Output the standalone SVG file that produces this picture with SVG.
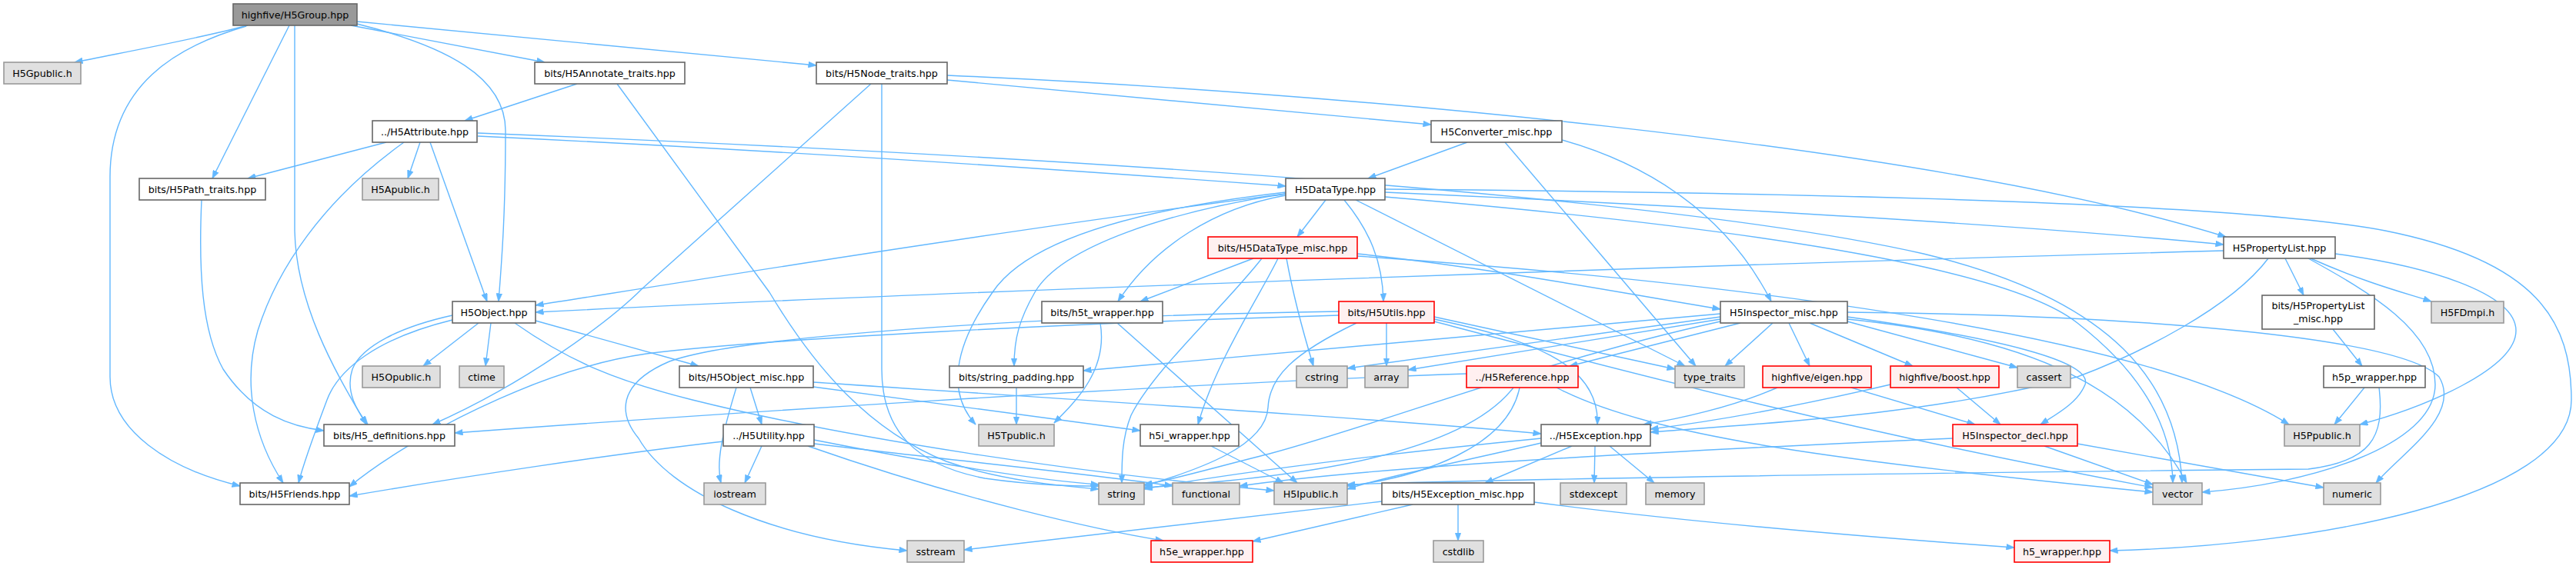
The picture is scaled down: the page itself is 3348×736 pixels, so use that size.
<svg xmlns="http://www.w3.org/2000/svg" width="3348" height="736" viewBox="0 0 3348 736">
<defs>
<style>
.e path{fill:none;stroke:#63b8ff;stroke-width:1.4;marker-end:url(#a)}
.n rect{stroke-width:1.6}
.w rect{fill:#ffffff;stroke:#666666}
.g rect{fill:#e0e0e0;stroke:#999999}
.r rect{fill:#fff0f0;stroke:#ff0000}
.root rect{fill:#999999;stroke:#666666}
.n text{font-family:"DejaVu Sans",sans-serif;font-size:12.7px;text-anchor:middle;fill:#000000}
</style>
<marker id="a" viewBox="0 0 11 8" refX="10.5" refY="4" markerWidth="11" markerHeight="8" markerUnits="userSpaceOnUse" orient="auto"><path d="M0,0 L11,4 L0,8 z" fill="#63b8ff" stroke="#63b8ff" stroke-width="0.5"/></marker>
</defs>
<rect width="3348" height="736" fill="#ffffff"/>
<g id="edges" class="e">
<path d="M322,33 C250,52 160,68 97,81"/>
<path d="M320,34 C230,60 143,110 143,230 L143,490 C143,560 220,610 312,632"/>
<path d="M376,33 L276,232"/>
<path d="M383,33 L383,300 C385,400 440,490 476,552"/>
<path d="M464,31 C580,60 657,100 657,170 C657,280 652,340 648,392"/>
<path d="M456,33 L708,81"/>
<path d="M464,28 L1061,85"/>
<path d="M750,109 L604,157"/>
<path d="M802,109 L1000,380 C1060,480 1130,560 1230,600 C1300,625 1380,632 1428,636"/>
<path d="M1231,98 C1700,118 2500,185 2893,308"/>
<path d="M1231,104 L1860,162"/>
<path d="M1146,109 L1146,480 C1146,560 1190,605 1280,622 C1350,632 1400,632 1428,632"/>
<path d="M1132,109 L835,375 C790,420 680,500 562,552"/>
<path d="M502,185 L322,232"/>
<path d="M546,185 L530,232"/>
<path d="M559,185 L633,392"/>
<path d="M525,185 C420,260 360,350 335,430 C315,500 330,570 368,628"/>
<path d="M621,177 C1000,195 1400,222 1671,242"/>
<path d="M621,173 C1300,200 2150,250 2500,330 C2750,390 2830,500 2836,628"/>
<path d="M262,260 C258,350 262,430 290,480 C330,540 380,555 421,560"/>
<path d="M1907,185 L1778,232"/>
<path d="M1956,185 L2204,476"/>
<path d="M2030,182 C2130,210 2240,270 2302,392"/>
<path d="M1723,260 L1686,308"/>
<path d="M1747,260 C1780,300 1797,340 1798,392"/>
<path d="M1762,260 L2190,476"/>
<path d="M1800,246 C2300,250 2900,262 3100,300 C3300,340 3342,420 3342,520 C3342,650 3000,710 2742,716"/>
<path d="M1800,250 C2200,268 2600,290 2890,318"/>
<path d="M1800,256 C2200,290 2600,340 2700,420 C2790,490 2823,560 2824,628"/>
<path d="M1671,252 C1300,300 900,365 696,397"/>
<path d="M2890,326 C2200,345 1200,380 696,406"/>
<path d="M1671,254 C1580,270 1500,320 1453,392"/>
<path d="M1671,252 C1520,275 1380,320 1345,380 C1325,415 1318,440 1318,476"/>
<path d="M1671,250 C1450,275 1330,320 1290,380 C1240,450 1230,510 1268,552"/>
<path d="M1629,336 L1482,392"/>
<path d="M1661,336 C1640,380 1580,470 1557,552"/>
<path d="M1672,336 C1680,380 1690,420 1707,476"/>
<path d="M1640,336 C1590,400 1500,480 1470,540 C1458,570 1458,600 1458,628"/>
<path d="M1764,330 C1950,350 2100,380 2236,402"/>
<path d="M1764,333 C2300,370 2800,440 2975,552"/>
<path d="M2236,408 C1900,440 1650,460 1408,482"/>
<path d="M2236,412 L1751,479"/>
<path d="M2236,415 L1830,481"/>
<path d="M2236,418 C2000,470 1800,550 1650,590 C1570,610 1520,625 1487,630"/>
<path d="M2262,420 L2040,476"/>
<path d="M2304,420 L2242,476"/>
<path d="M2325,420 L2352,476"/>
<path d="M2352,420 L2486,476"/>
<path d="M2401,418 L2622,478"/>
<path d="M2401,412 C2600,440 2720,470 2710,500 C2700,525 2670,540 2652,552"/>
<path d="M2401,406 C2800,410 3120,440 3170,490 C3200,540 3120,590 3088,628"/>
<path d="M2401,415 C2650,440 2780,510 2842,628"/>
<path d="M1740,410 C1400,420 1000,440 840,460 C700,480 530,570 454,633"/>
<path d="M1802,420 L1802,476"/>
<path d="M1864,412 L2177,480"/>
<path d="M1864,415 C1980,440 2080,470 2076,552"/>
<path d="M1864,418 C2100,480 2400,560 2798,634"/>
<path d="M1740,405 C1300,412 950,440 870,470 C800,500 805,540 830,570 C870,640 1000,700 1179,716"/>
<path d="M1763,420 C1680,460 1650,490 1648,530 C1645,580 1560,610 1487,632"/>
<path d="M1906,486 C1500,500 900,540 591,563"/>
<path d="M1975,504 C1960,580 1850,620 1751,632"/>
<path d="M1967,504 C1900,590 1700,620 1487,634"/>
<path d="M2023,504 C2150,570 2400,600 2798,640"/>
<path d="M2043,580 L1930,628"/>
<path d="M2073,580 L2072,628"/>
<path d="M2092,580 L2150,628"/>
<path d="M2003,570 C1800,590 1600,615 1487,636"/>
<path d="M2003,576 C1900,600 1800,620 1751,636"/>
<path d="M1895,656 L1895,703"/>
<path d="M1796,652 L1253,715"/>
<path d="M1836,656 L1628,704"/>
<path d="M1994,653 C2200,680 2450,700 2618,712"/>
<path d="M622,420 L550,476"/>
<path d="M638,420 L631,476"/>
<path d="M696,417 L908,476"/>
<path d="M669,420 C740,470 800,495 900,520 C1100,570 1400,615 1656,638"/>
<path d="M588,410 C520,425 470,450 458,480 C448,510 465,535 478,552"/>
<path d="M588,416 C490,440 440,480 425,520 C410,560 395,600 388,628"/>
<path d="M957,504 C940,560 930,600 937,628"/>
<path d="M975,504 L990,552"/>
<path d="M1057,497 C1400,520 1800,545 2003,564"/>
<path d="M1057,503 L1482,560"/>
<path d="M940,574 C800,590 600,620 454,645"/>
<path d="M990,580 L968,628"/>
<path d="M1058,572 C1200,600 1350,625 1428,630"/>
<path d="M1058,577 C1250,600 1450,620 1524,632"/>
<path d="M1050,580 C1250,650 1430,690 1512,703"/>
<path d="M1321,504 L1321,552"/>
<path d="M1430,420 C1440,480 1400,520 1370,550"/>
<path d="M1452,420 L1686,628"/>
<path d="M1574,580 L1668,628"/>
<path d="M2970,336 L2994,384"/>
<path d="M3003,336 C3080,370 3130,382 3160,392"/>
<path d="M3035,330 C3150,345 3270,380 3270,430 C3270,480 3150,530 3067,552"/>
<path d="M3000,336 C3080,380 3165,430 3165,500 C3165,580 3000,630 2862,640"/>
<path d="M2948,336 C2900,400 2780,460 2700,490 C2500,540 2300,550 2145,562"/>
<path d="M3032,428 L3070,476"/>
<path d="M3073,504 L3034,552"/>
<path d="M3092,504 C3100,570 3080,600 3000,610 C2500,615 2000,622 1751,630"/>
<path d="M2310,504 C2250,530 2180,545 2136,552"/>
<path d="M2457,500 C2350,525 2250,545 2145,558"/>
<path d="M2406,504 L2567,552"/>
<path d="M2543,504 L2600,552"/>
<path d="M2657,580 L2798,630"/>
<path d="M2700,577 L3020,634"/>
<path d="M2538,570 C2200,585 1800,605 1611,632"/>
</g>
<g id="n_group" class="n root"><rect x="303" y="5" width="161" height="28"/><text x="383.5" y="23.5">highfive/H5Group.hpp</text></g>
<g id="n_gpub" class="n g"><rect x="5" y="81" width="100" height="28"/><text x="55" y="99.5">H5Gpublic.h</text></g>
<g id="n_annot" class="n w"><rect x="695" y="81" width="195" height="28"/><text x="792.5" y="99.5">bits/H5Annotate_traits.hpp</text></g>
<g id="n_node" class="n w"><rect x="1061" y="81" width="170" height="28"/><text x="1146" y="99.5">bits/H5Node_traits.hpp</text></g>
<g id="n_attr" class="n w"><rect x="484" y="157" width="136" height="28"/><text x="552" y="175.5">../H5Attribute.hpp</text></g>
<g id="n_conv" class="n w"><rect x="1860" y="157" width="170" height="28"/><text x="1945" y="175.5">H5Converter_misc.hpp</text></g>
<g id="n_path" class="n w"><rect x="181" y="232" width="164" height="28"/><text x="263" y="250.5">bits/H5Path_traits.hpp</text></g>
<g id="n_apub" class="n g"><rect x="471" y="232" width="99" height="28"/><text x="520.5" y="250.5">H5Apublic.h</text></g>
<g id="n_dtype" class="n w"><rect x="1671" y="232" width="129" height="28"/><text x="1735.5" y="250.5">H5DataType.hpp</text></g>
<g id="n_dtmisc" class="n r"><rect x="1570" y="308" width="194" height="28"/><text x="1667" y="326.5">bits/H5DataType_misc.hpp</text></g>
<g id="n_plist" class="n w"><rect x="2890" y="308" width="145" height="28"/><text x="2962.5" y="326.5">H5PropertyList.hpp</text></g>
<g id="n_obj" class="n w"><rect x="588" y="392" width="108" height="28"/><text x="642" y="410.5">H5Object.hpp</text></g>
<g id="n_h5t" class="n w"><rect x="1354" y="392" width="157" height="28"/><text x="1432.5" y="410.5">bits/h5t_wrapper.hpp</text></g>
<g id="n_utils" class="n r"><rect x="1740" y="392" width="124" height="28"/><text x="1802" y="410.5">bits/H5Utils.hpp</text></g>
<g id="n_insp" class="n w"><rect x="2236" y="392" width="165" height="28"/><text x="2318.5" y="410.5">H5Inspector_misc.hpp</text></g>
<g id="n_plmisc" class="n w"><rect x="2940" y="384" width="146" height="44"/><text x="3013" y="402">bits/H5PropertyList</text><text x="3013" y="419">_misc.hpp</text></g>
<g id="n_fdmpi" class="n g"><rect x="3160" y="392" width="94" height="28"/><text x="3207" y="410.5">H5FDmpi.h</text></g>
<g id="n_opub" class="n g"><rect x="471" y="476" width="101" height="28"/><text x="521.5" y="494.5">H5Opublic.h</text></g>
<g id="n_ctime" class="n g"><rect x="597" y="476" width="58" height="28"/><text x="626" y="494.5">ctime</text></g>
<g id="n_objmisc" class="n w"><rect x="883" y="476" width="174" height="28"/><text x="970" y="494.5">bits/H5Object_misc.hpp</text></g>
<g id="n_strpad" class="n w"><rect x="1234" y="476" width="174" height="28"/><text x="1321" y="494.5">bits/string_padding.hpp</text></g>
<g id="n_cstring" class="n g"><rect x="1685" y="476" width="66" height="28"/><text x="1718" y="494.5">cstring</text></g>
<g id="n_array" class="n g"><rect x="1774" y="476" width="56" height="28"/><text x="1802" y="494.5">array</text></g>
<g id="n_ref" class="n r"><rect x="1906" y="476" width="145" height="28"/><text x="1978.5" y="494.5">../H5Reference.hpp</text></g>
<g id="n_tt" class="n g"><rect x="2177" y="476" width="90" height="28"/><text x="2222" y="494.5">type_traits</text></g>
<g id="n_eigen" class="n r"><rect x="2291" y="476" width="141" height="28"/><text x="2361.5" y="494.5">highfive/eigen.hpp</text></g>
<g id="n_boost" class="n r"><rect x="2457" y="476" width="141" height="28"/><text x="2527.5" y="494.5">highfive/boost.hpp</text></g>
<g id="n_cassert" class="n g"><rect x="2622" y="476" width="69" height="28"/><text x="2656.5" y="494.5">cassert</text></g>
<g id="n_h5p" class="n w"><rect x="3020" y="476" width="132" height="28"/><text x="3086" y="494.5">h5p_wrapper.hpp</text></g>
<g id="n_defs" class="n w"><rect x="421" y="552" width="170" height="28"/><text x="506" y="570.5">bits/H5_definitions.hpp</text></g>
<g id="n_util" class="n w"><rect x="940" y="552" width="118" height="28"/><text x="999" y="570.5">../H5Utility.hpp</text></g>
<g id="n_tpub" class="n g"><rect x="1272" y="552" width="98" height="28"/><text x="1321" y="570.5">H5Tpublic.h</text></g>
<g id="n_h5i" class="n w"><rect x="1482" y="552" width="128" height="28"/><text x="1546" y="570.5">h5i_wrapper.hpp</text></g>
<g id="n_exc" class="n w"><rect x="2003" y="552" width="142" height="28"/><text x="2074" y="570.5">../H5Exception.hpp</text></g>
<g id="n_idecl" class="n r"><rect x="2538" y="552" width="162" height="28"/><text x="2619" y="570.5">H5Inspector_decl.hpp</text></g>
<g id="n_ppub" class="n g"><rect x="2969" y="552" width="98" height="28"/><text x="3018" y="570.5">H5Ppublic.h</text></g>
<g id="n_friends" class="n w"><rect x="312" y="628" width="142" height="28"/><text x="383" y="646.5">bits/H5Friends.hpp</text></g>
<g id="n_iostream" class="n g"><rect x="915" y="628" width="80" height="28"/><text x="955" y="646.5">iostream</text></g>
<g id="n_string" class="n g"><rect x="1428" y="628" width="59" height="28"/><text x="1457.5" y="646.5">string</text></g>
<g id="n_functional" class="n g"><rect x="1524" y="628" width="87" height="28"/><text x="1567.5" y="646.5">functional</text></g>
<g id="n_ipub" class="n g"><rect x="1656" y="628" width="95" height="28"/><text x="1703.5" y="646.5">H5Ipublic.h</text></g>
<g id="n_excmisc" class="n w"><rect x="1796" y="628" width="198" height="28"/><text x="1895" y="646.5">bits/H5Exception_misc.hpp</text></g>
<g id="n_stdexcept" class="n g"><rect x="2028" y="628" width="86" height="28"/><text x="2071" y="646.5">stdexcept</text></g>
<g id="n_memory" class="n g"><rect x="2139" y="628" width="76" height="28"/><text x="2177" y="646.5">memory</text></g>
<g id="n_vector" class="n g"><rect x="2798" y="628" width="64" height="28"/><text x="2830" y="646.5">vector</text></g>
<g id="n_numeric" class="n g"><rect x="3020" y="628" width="74" height="28"/><text x="3057" y="646.5">numeric</text></g>
<g id="n_sstream" class="n g"><rect x="1179" y="703" width="74" height="28"/><text x="1216" y="721.5">sstream</text></g>
<g id="n_h5e" class="n r"><rect x="1496" y="703" width="132" height="28"/><text x="1562" y="721.5">h5e_wrapper.hpp</text></g>
<g id="n_cstdlib" class="n g"><rect x="1863" y="703" width="65" height="28"/><text x="1895.5" y="721.5">cstdlib</text></g>
<g id="n_h5w" class="n r"><rect x="2618" y="703" width="124" height="28"/><text x="2680" y="721.5">h5_wrapper.hpp</text></g>
</svg>
